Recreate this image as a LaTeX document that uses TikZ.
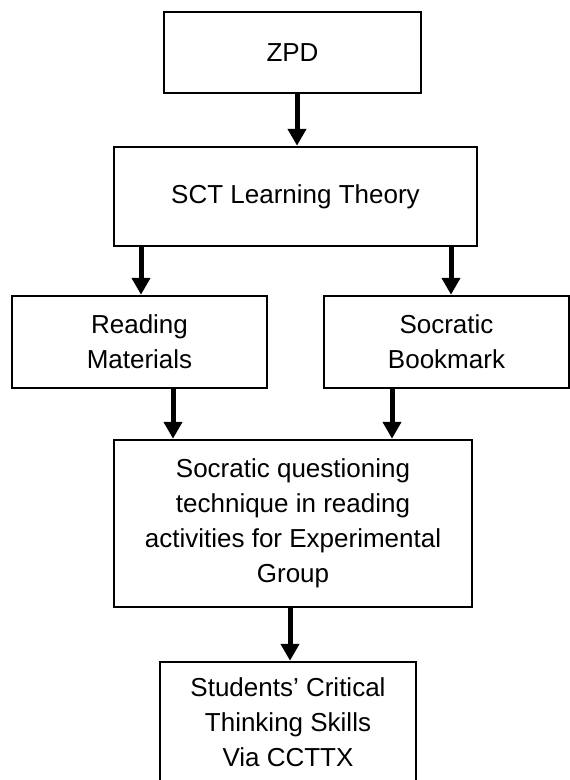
\documentclass[tikz,border=0pt]{standalone}
\usepackage{fontspec}
\setmainfont{Liberation Sans}
\usetikzlibrary{arrows.meta}
\begin{document}
\begin{tikzpicture}[x=1pt,y=-1pt,
  box/.style={draw=black,line width=2.5pt,inner sep=0pt,align=center,
    font=\fontsize{26}{35}\selectfont},
  arr/.style={line width=5pt,-{Triangle[length=17pt,width=18pt]}}]
\useasboundingbox (0,0) rectangle (570,780);
\fill[white] (0,0) rectangle (570,780);
\node[box,minimum width=257pt,minimum height=81pt] (zpd) at (292.5,52.5) {ZPD};
\node[box,minimum width=363pt,minimum height=99pt] (sct) at (295.5,196.5) {SCT Learning Theory};
\node[box,minimum width=255pt,minimum height=92pt] (rm) at (139.5,342) {Reading\\Materials};
\node[box,minimum width=245pt,minimum height=92pt] (sb) at (446.5,342) {Socratic\\Bookmark};
\node[box,minimum width=358pt,minimum height=167pt] (main) at (293,523.5) {Socratic questioning\\technique in reading\\activities for Experimental\\Group};
\node[box,minimum width=256pt,minimum height=120pt] (out) at (288,722) {Students’ Critical\\Thinking Skills\\Via CCTTX};
\coordinate (x1) at (297,0);
\coordinate (x2) at (141,0);
\coordinate (x3) at (451,0);
\coordinate (x4) at (173,0);
\coordinate (x5) at (392,0);
\coordinate (x6) at (290,0);
\draw[arr] (zpd.south -| x1) -- (sct.north -| x1);
\draw[arr] (sct.south -| x2) -- (rm.north -| x2);
\draw[arr] (sct.south -| x3) -- (sb.north -| x3);
\draw[arr] (rm.south -| x4) -- (main.north -| x4);
\draw[arr] (sb.south -| x5) -- (main.north -| x5);
\draw[arr] (main.south -| x6) -- (out.north -| x6);
\end{tikzpicture}
\end{document}
